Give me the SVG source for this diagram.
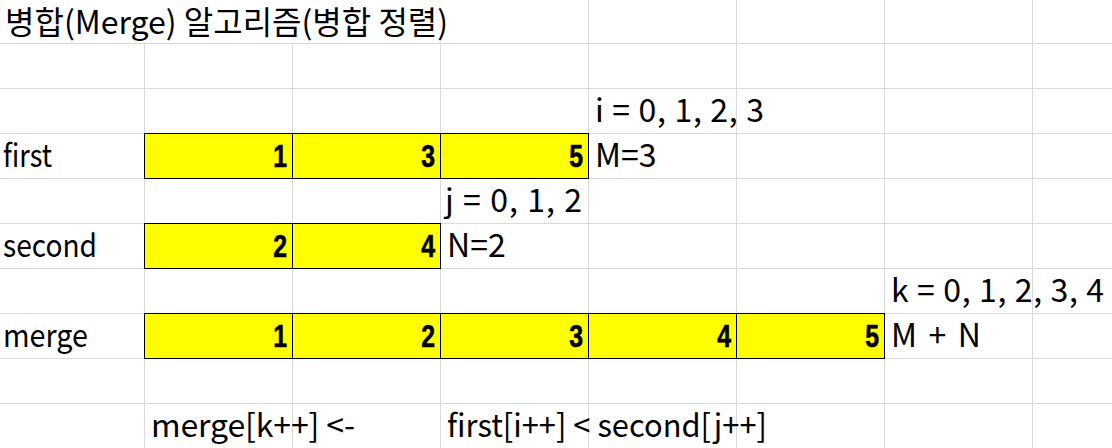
<svg xmlns="http://www.w3.org/2000/svg" width="1112" height="448" viewBox="0 0 1112 448">
<style>
.g{stroke:#dadada;stroke-width:1;fill:none}
.c{fill:#ffff00;stroke:#000;stroke-width:1}
.t{font-family:"Noto Sans CJK KR","Noto Sans",sans-serif;font-size:32px;fill:#000}
.n{font-family:"Liberation Sans",Arial,sans-serif;font-weight:bold;font-size:31px;fill:#000;text-anchor:end;stroke:#000;stroke-width:0.6}
</style>
<rect width="1112" height="448" fill="#fff"/>
<g id="grid">
<path class="g" d="M0 43.5H1112M0 88.5H1112M0 133.5H1112M0 178.5H1112M0 223.5H1112M0 268.5H1112M0 313.5H1112M0 358.5H1112M0 403.5H1112"/>
<path class="g" d="M144.5 43.5V448M292.5 43.5V448M440.5 43.5V448M588.5 0V448M736.5 0V448M884.5 0V448M1032.5 0V448"/>
</g>
<text id="title" class="t" x="5" y="34">병합(Merge) 알고리즘(병합 정렬)</text>
<g id="first">
<rect class="c" x="144.5" y="133.5" width="148" height="45"/>
<rect class="c" x="292.5" y="133.5" width="148" height="45"/>
<rect class="c" x="440.5" y="133.5" width="148" height="45"/>
<text class="t" x="3" y="167" textLength="49" lengthAdjust="spacingAndGlyphs">first</text>
<text class="n" transform="translate(287,167) scale(0.8,1)">1</text>
<text class="n" transform="translate(435,167) scale(0.8,1)">3</text>
<text class="n" transform="translate(583,167) scale(0.8,1)">5</text>
<text class="t" x="595" y="122" textLength="169" lengthAdjust="spacing">i = 0, 1, 2, 3</text>
<text class="t" x="595" y="167">M=3</text>
</g>
<g id="second">
<rect class="c" x="144.5" y="223.5" width="148" height="45"/>
<rect class="c" x="292.5" y="223.5" width="148" height="45"/>
<text class="t" x="3" y="257" textLength="94" lengthAdjust="spacingAndGlyphs">second</text>
<text class="n" transform="translate(287,257) scale(0.8,1)">2</text>
<text class="n" transform="translate(435,257) scale(0.8,1)">4</text>
<text class="t" x="445" y="212" textLength="137" lengthAdjust="spacing">j = 0, 1, 2</text>
<text class="t" x="447" y="257">N=2</text>
</g>
<g id="merge">
<rect class="c" x="144.5" y="313.5" width="148" height="45"/>
<rect class="c" x="292.5" y="313.5" width="148" height="45"/>
<rect class="c" x="440.5" y="313.5" width="148" height="45"/>
<rect class="c" x="588.5" y="313.5" width="148" height="45"/>
<rect class="c" x="736.5" y="313.5" width="148" height="45"/>
<text class="t" x="3" y="347" textLength="85" lengthAdjust="spacingAndGlyphs">merge</text>
<text class="n" transform="translate(287,347) scale(0.8,1)">1</text>
<text class="n" transform="translate(435,347) scale(0.8,1)">2</text>
<text class="n" transform="translate(583,347) scale(0.8,1)">3</text>
<text class="n" transform="translate(731,347) scale(0.8,1)">4</text>
<text class="n" transform="translate(879,347) scale(0.8,1)">5</text>
<text class="t" x="891" y="302" textLength="213" lengthAdjust="spacing">k = 0, 1, 2, 3, 4</text>
<text class="t" x="891" y="347" textLength="90" lengthAdjust="spacing">M + N</text>
</g>
<g id="formula">
<text class="t" x="151" y="437" textLength="204" lengthAdjust="spacing">merge[k++] &lt;-</text>
<text class="t" x="447" y="437" textLength="320" lengthAdjust="spacingAndGlyphs">first[i++] &lt; second[j++]</text>
</g>
</svg>
